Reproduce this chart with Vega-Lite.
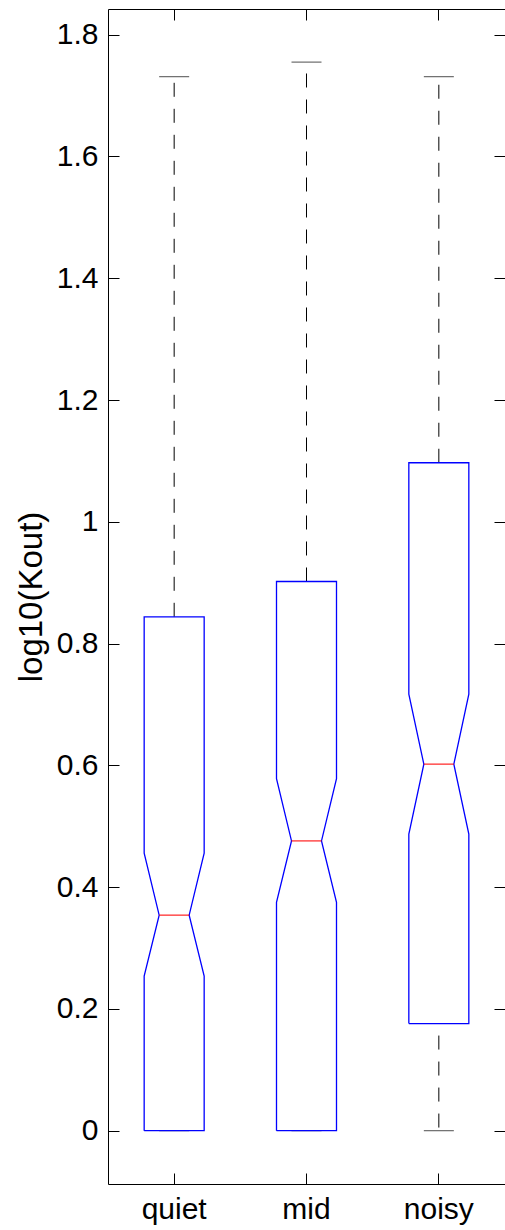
{
  "$schema": "https://vega.github.io/schema/vega-lite/v6.json",
  "autosize": {"type": "none"},
  "padding": {"left": 108, "top": 9, "right": 0, "bottom": 46},
  "width": 397,
  "height": 1175,
  "background": "white",
  "datasets": {
    "stats": [
      {"group": "quiet", "lo": 0, "q1": 0, "med": 0.354, "q3": 0.844, "hi": 1.731},
      {"group": "mid", "lo": 0, "q1": 0, "med": 0.476, "q3": 0.902, "hi": 1.755},
      {"group": "noisy", "lo": 0, "q1": 0.176, "med": 0.602, "q3": 1.097, "hi": 1.731}
    ],
    "outline": [
      {"group": "quiet", "i": 0, "side": "L", "v": 0},
      {"group": "quiet", "i": 1, "side": "L", "v": 0.254},
      {"group": "quiet", "i": 2, "side": "NL", "v": 0.354},
      {"group": "quiet", "i": 3, "side": "L", "v": 0.456},
      {"group": "quiet", "i": 4, "side": "L", "v": 0.844},
      {"group": "quiet", "i": 5, "side": "R", "v": 0.844},
      {"group": "quiet", "i": 6, "side": "R", "v": 0.456},
      {"group": "quiet", "i": 7, "side": "NR", "v": 0.354},
      {"group": "quiet", "i": 8, "side": "R", "v": 0.254},
      {"group": "quiet", "i": 9, "side": "R", "v": 0},
      {"group": "quiet", "i": 10, "side": "L", "v": 0},
      {"group": "mid", "i": 0, "side": "L", "v": 0},
      {"group": "mid", "i": 1, "side": "L", "v": 0.375},
      {"group": "mid", "i": 2, "side": "NL", "v": 0.476},
      {"group": "mid", "i": 3, "side": "L", "v": 0.578},
      {"group": "mid", "i": 4, "side": "L", "v": 0.902},
      {"group": "mid", "i": 5, "side": "R", "v": 0.902},
      {"group": "mid", "i": 6, "side": "R", "v": 0.578},
      {"group": "mid", "i": 7, "side": "NR", "v": 0.476},
      {"group": "mid", "i": 8, "side": "R", "v": 0.375},
      {"group": "mid", "i": 9, "side": "R", "v": 0},
      {"group": "mid", "i": 10, "side": "L", "v": 0},
      {"group": "noisy", "i": 0, "side": "L", "v": 0.176},
      {"group": "noisy", "i": 1, "side": "L", "v": 0.487},
      {"group": "noisy", "i": 2, "side": "NL", "v": 0.602},
      {"group": "noisy", "i": 3, "side": "L", "v": 0.717},
      {"group": "noisy", "i": 4, "side": "L", "v": 1.097},
      {"group": "noisy", "i": 5, "side": "R", "v": 1.097},
      {"group": "noisy", "i": 6, "side": "R", "v": 0.717},
      {"group": "noisy", "i": 7, "side": "NR", "v": 0.602},
      {"group": "noisy", "i": 8, "side": "R", "v": 0.487},
      {"group": "noisy", "i": 9, "side": "R", "v": 0.176},
      {"group": "noisy", "i": 10, "side": "L", "v": 0.176}
    ]
  },
  "config": {
    "view": {"stroke": null},
    "font": "Liberation Sans",
    "axis": {
      "grid": false,
      "domainColor": "black",
      "domainWidth": 1,
      "tickColor": "black",
      "tickWidth": 1,
      "labelColor": "black",
      "titleColor": "black",
      "labelFont": "Liberation Sans",
      "titleFont": "Liberation Sans",
      "labelFontSize": 30,
      "titleFontSize": 33,
      "titleFontWeight": "normal"
    }
  },
  "resolve": {"axis": {"x": "independent", "y": "independent"}},
  "layer": [
    {
      "data": {"name": "stats"},
      "mark": {"type": "rule", "color": "black", "strokeWidth": 1, "strokeDash": [14, 12]},
      "encoding": {
        "x": {"field": "group", "type": "nominal",
              "scale": {"domain": ["quiet", "mid", "noisy"], "paddingInner": 0.5466, "paddingOuter": 0.2733},
              "axis": {"orient": "bottom", "title": null, "labelAngle": 0, "tickSize": -11, "labelPadding": 21, "domain": true, "bandPosition": 0.5}},
        "y": {"field": "q3", "type": "quantitative",
              "scale": {"domain": [-0.0875, 1.8422], "nice": false, "zero": false},
              "axis": {"orient": "left", "title": "log10(Kout)", "values": [0, 0.2, 0.4, 0.6, 0.8, 1, 1.2, 1.4, 1.6, 1.8], "format": "~g", "tickSize": -11, "labelPadding": 21, "titlePadding": 8, "domain": true}},
        "y2": {"field": "hi"}
      }
    },
    {
      "data": {"name": "stats"},
      "mark": {"type": "rule", "color": "black", "strokeWidth": 1, "strokeDash": [14, 12], "strokeDashOffset": 14},
      "encoding": {
        "x": {"field": "group", "type": "nominal", "axis": null},
        "y": {"field": "q1", "type": "quantitative", "axis": null},
        "y2": {"field": "lo"}
      }
    },
    {
      "data": {"name": "stats"},
      "mark": {"type": "tick", "color": "black", "thickness": 1, "size": 30},
      "encoding": {
        "x": {"field": "group", "type": "nominal", "axis": null},
        "y": {"field": "hi", "type": "quantitative", "axis": null}
      }
    },
    {
      "data": {"name": "stats"},
      "mark": {"type": "tick", "color": "black", "thickness": 1, "size": 30},
      "encoding": {
        "x": {"field": "group", "type": "nominal", "axis": null},
        "y": {"field": "lo", "type": "quantitative", "axis": null}
      }
    },
    {
      "data": {"name": "outline"},
      "mark": {"type": "line", "color": "#0000ff", "strokeWidth": 1.3},
      "encoding": {
        "x": {"field": "group", "type": "nominal", "axis": null},
        "xOffset": {"field": "side", "type": "nominal", "scale": {"type": "point", "padding": 0, "domain": ["L", "NL", "C", "NR", "R"]}},
        "y": {"field": "v", "type": "quantitative", "axis": null},
        "detail": {"field": "group"},
        "order": {"field": "i", "type": "quantitative"}
      }
    },
    {
      "data": {"name": "stats"},
      "mark": {"type": "tick", "color": "#ff0000", "thickness": 1.5, "size": 30},
      "encoding": {
        "x": {"field": "group", "type": "nominal",
              "axis": {"orient": "top", "title": null, "labels": false, "tickSize": -11, "domain": true, "bandPosition": 0.5}},
        "y": {"field": "med", "type": "quantitative",
              "axis": {"orient": "right", "title": null, "labels": false, "values": [0, 0.2, 0.4, 0.6, 0.8, 1, 1.2, 1.4, 1.6, 1.8], "tickSize": -11, "domain": false}}
      }
    }
  ]
}
